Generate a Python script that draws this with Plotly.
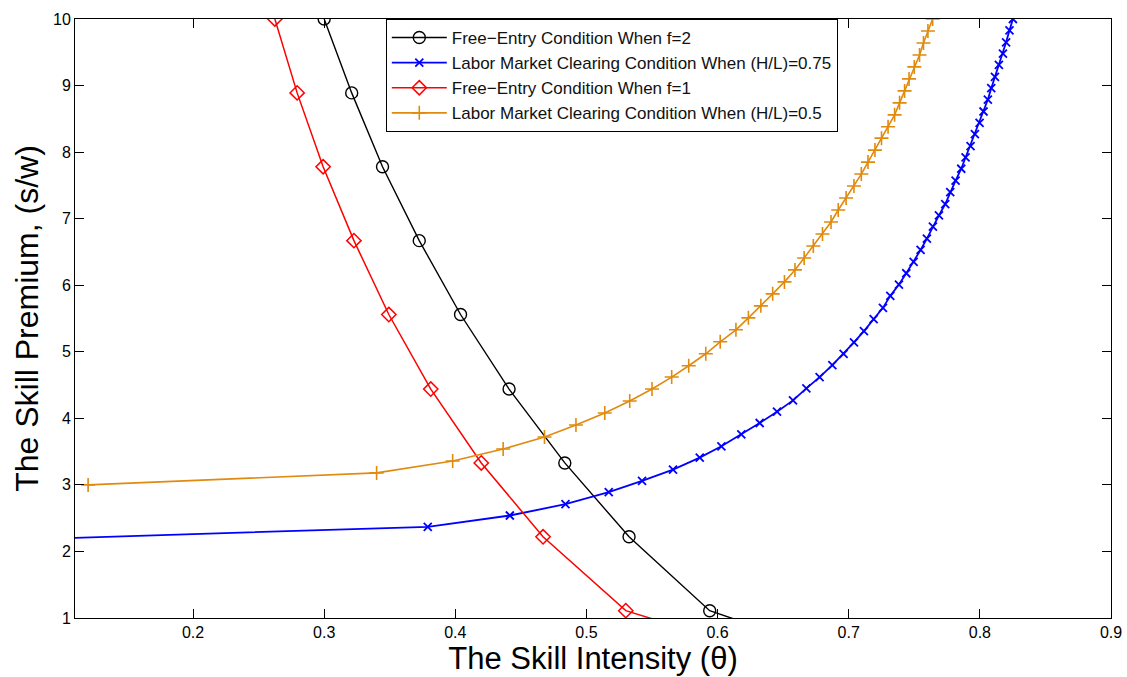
import plotly.graph_objects as go

# Free-entry condition, f=2 (black circles)
fe2_x = [0.300, 0.321, 0.3445, 0.3725, 0.404, 0.441, 0.4835, 0.5325, 0.594, 0.759]
fe2_y = [10.0, 8.89, 7.78, 6.67, 5.56, 4.44, 3.33, 2.22, 1.11, 0.0]

# Free-entry condition, f=1 (red diamonds)
fe1_x = [0.2624, 0.2794, 0.2992, 0.3227, 0.3493, 0.3813, 0.4198, 0.4669, 0.530, 0.713]
fe1_y = [10.0, 8.89, 7.78, 6.67, 5.56, 4.44, 3.33, 2.22, 1.11, 0.0]

# Labor market clearing, H/L = 0.75 (blue x)
lm75_x = [0.085, 0.379, 0.4416, 0.484, 0.517, 0.5424, 0.566, 0.5864, 0.6029, 0.6181,
          0.6321, 0.6453, 0.6575, 0.6677, 0.6778, 0.6875, 0.6961, 0.704, 0.7116, 0.719,
          0.7261, 0.7317, 0.7383, 0.7439, 0.7495, 0.7548, 0.7596, 0.7642, 0.7688, 0.7736,
          0.7774, 0.7815, 0.7858, 0.7891, 0.7929, 0.7962, 0.7998, 0.8028, 0.8061, 0.8087,
          0.8115, 0.8145, 0.8176, 0.8200, 0.8226, 0.8252]
lm75_y = [2.19, 2.37, 2.54, 2.71, 2.89, 3.06, 3.23, 3.41, 3.58, 3.76,
          3.93, 4.10, 4.27, 4.45, 4.62, 4.80, 4.97, 5.14, 5.31, 5.49,
          5.66, 5.84, 6.01, 6.18, 6.35, 6.53, 6.70, 6.88, 7.05, 7.22,
          7.40, 7.57, 7.75, 7.92, 8.09, 8.27, 8.44, 8.61, 8.79, 8.96,
          9.13, 9.31, 9.48, 9.65, 9.83, 10.0]

# Labor market clearing, H/L = 0.5 (orange +)
lm50_x = [0.120, 0.340, 0.398, 0.4365, 0.468, 0.492, 0.514, 0.533, 0.550, 0.565,
          0.578, 0.591, 0.602, 0.614, 0.6235, 0.633, 0.642, 0.651, 0.659, 0.666,
          0.673, 0.680, 0.6865, 0.692, 0.698, 0.704, 0.7096, 0.7147, 0.720, 0.725,
          0.730, 0.735, 0.7388, 0.7426, 0.746, 0.750, 0.754, 0.757, 0.7604, 0.764]
lm50_y = [3.00, 3.18, 3.36, 3.54, 3.72, 3.90, 4.08, 4.26, 4.44, 4.62,
          4.79, 4.97, 5.15, 5.33, 5.51, 5.69, 5.87, 6.05, 6.23, 6.41,
          6.59, 6.77, 6.95, 7.13, 7.31, 7.49, 7.67, 7.85, 8.03, 8.21,
          8.38, 8.56, 8.74, 8.92, 9.10, 9.28, 9.46, 9.64, 9.82, 10.0]

x_ticks = [0.2, 0.3, 0.4, 0.5, 0.6, 0.7, 0.8, 0.9]
y_ticks = [1, 2, 3, 4, 5, 6, 7, 8, 9, 10]

FONT = "Liberation Sans, Arial, Helvetica, sans-serif"
ORANGE = "#E08A0E"

fig = go.Figure()
fig.add_trace(go.Scatter(x=fe2_x, y=fe2_y, mode="lines+markers",
                         name="Free\u2212Entry Condition When f=2",
                         line=dict(color="black", width=1.4),
                         marker=dict(symbol="circle-open", size=12, color="black",
                                     line=dict(width=1.4))))
fig.add_trace(go.Scatter(x=lm75_x, y=lm75_y, mode="lines+markers",
                         name="Labor Market Clearing Condition When (H/L)=0.75",
                         line=dict(color="#0000FF", width=1.8),
                         marker=dict(symbol="x-thin-open", size=8, color="#0000FF",
                                     line=dict(width=1.8, color="#0000FF"))))
fig.add_trace(go.Scatter(x=fe1_x, y=fe1_y, mode="lines+markers",
                         name="Free\u2212Entry Condition When f=1",
                         line=dict(color="#FF0000", width=1.5),
                         marker=dict(symbol="diamond-open", size=11, color="#FF0000",
                                     line=dict(width=1.5))))
fig.add_trace(go.Scatter(x=lm50_x, y=lm50_y, mode="lines+markers",
                         name="Labor Market Clearing Condition When (H/L)=0.5",
                         line=dict(color=ORANGE, width=1.6),
                         marker=dict(symbol="cross-thin-open", size=10, color=ORANGE,
                                     line=dict(width=1.6, color=ORANGE))))

fig.update_layout(
    width=1127, height=677,
    margin=dict(l=75, r=16, t=19, b=59),
    paper_bgcolor="white", plot_bgcolor="white",
    font=dict(family=FONT, color="black", size=16),
    legend=dict(x=0.3, y=1.0, xanchor="left", yanchor="top",
                bgcolor="white", bordercolor="black", borderwidth=1,
                font=dict(size=17, family=FONT, color="#111111"),
                tracegroupgap=0, itemwidth=55),
    showlegend=True,
)
fig.update_xaxes(range=[0.11, 0.9], tickvals=x_ticks, ticktext=[str(v) for v in x_ticks],
                 ticks="inside", ticklen=9, tickcolor="black", showline=True,
                 linecolor="black", linewidth=1, mirror="ticks", showgrid=False,
                 zeroline=False, tickfont=dict(size=16), automargin=False,
                 title=dict(text="The Skill Intensity (\u03b8)", font=dict(size=31),
                            standoff=4))
fig.update_yaxes(range=[1, 10], tickvals=y_ticks, ticktext=[str(v) for v in y_ticks],
                 ticks="inside", ticklen=9, tickcolor="black", showline=True,
                 linecolor="black", linewidth=1, mirror="ticks", showgrid=False,
                 zeroline=False, tickfont=dict(size=16), automargin=False,
                 title=dict(text="The Skill Premium, (s/w)", font=dict(size=32),
                            standoff=4))

fig.write_html("out.html")
